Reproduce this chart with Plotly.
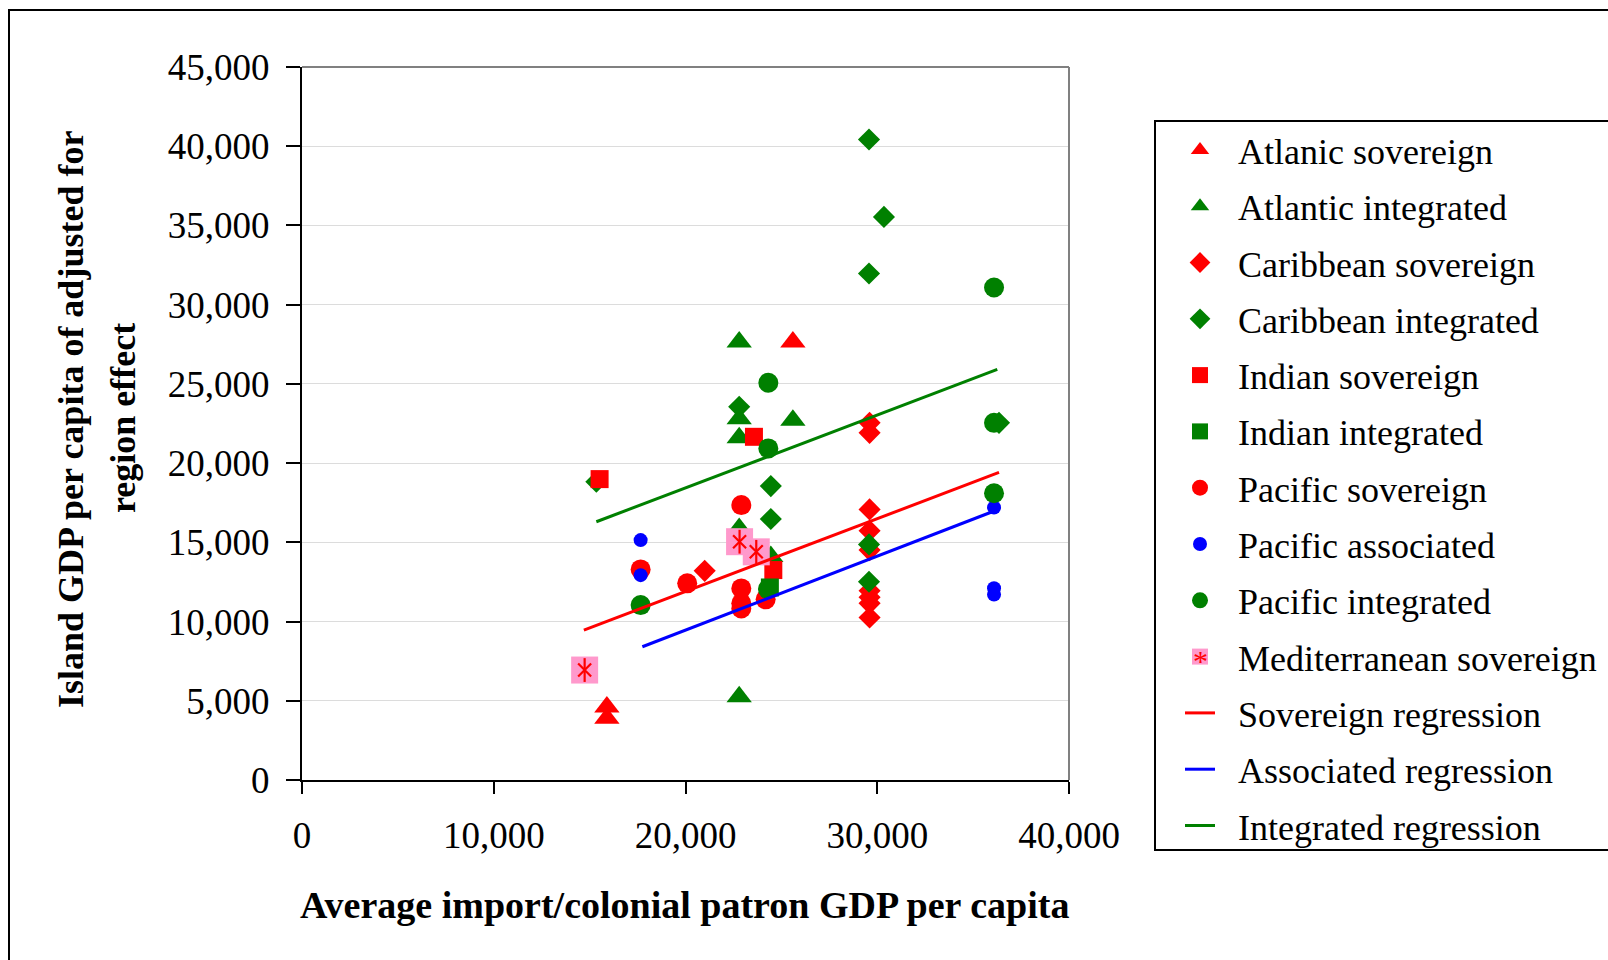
import plotly.graph_objects as go

# ---------------- data ----------------
atl_sov_x = [25600, 15900, 15900]
atl_sov_y = [27650, 4600, 3900]

atl_int_x = [22800, 22800, 22800, 25600, 22800, 24450, 22800]
atl_int_y = [27650, 22800, 21600, 22700, 15880, 14100, 5260]

car_sov_x = [29600, 29600, 29600, 29600, 29600, 29600, 29600, 29600, 29600, 21000]
car_sov_y = [22540, 21910, 17080, 15730, 14510, 11940, 11530, 11150, 10260, 13200]

car_int_x = [15350, 24450, 24450, 22800, 29570, 30350, 29570, 29570, 29570, 36350]
car_int_y = [18820, 18550, 16470, 23550, 40420, 35540, 31970, 14870, 12510, 22540]

ind_sov_x = [15520, 23570, 24580]
ind_sov_y = [18990, 21660, 13250]

ind_int_x = [24400]
ind_int_y = [12150]

pac_sov_x = [17660, 20090, 22910, 22910, 22910, 22910, 24180]
pac_sov_y = [13290, 12410, 17350, 12090, 11150, 10830, 11400]

pac_assoc_x = [17660, 17660, 36090, 36090, 36090]
pac_assoc_y = [15140, 12930, 17200, 12100, 11700]

pac_int_x = [24320, 24320, 17660, 24300, 36090, 36090, 36090]
pac_int_y = [25070, 20930, 11040, 12050, 31080, 22540, 18100]

med_sov_x = [14740, 22820, 23690]
med_sov_y = [6940, 15040, 14400]

reg_sov_x = [14700, 36350]
reg_sov_y = [9460, 19410]
reg_assoc_x = [17750, 36000]
reg_assoc_y = [8410, 16930]
reg_int_x = [15350, 36260]
reg_int_y = [16300, 25910]

x_ticks = [0, 10000, 20000, 30000, 40000]
y_ticks = [0, 5000, 10000, 15000, 20000, 25000, 30000, 35000, 40000, 45000]

RED = "#FF0000"
GREEN = "#008000"
BLUE = "#0000FF"
PINK = "#FF99CC"
FONT = "Liberation Serif, Times New Roman, serif"
PAD = "\u00a0\u00a0"  # extra gap between legend symbol and label

fig = go.Figure()

def mk(name, x, y, symbol, color, size, group, showlegend=True, line=None):
    m = dict(symbol=symbol, color=color, size=size, line=dict(width=0))
    if line is not None:
        m["line"] = line
    fig.add_trace(go.Scatter(x=x, y=y, mode="markers", name=PAD + name, marker=m,
                             legendgroup=group, showlegend=showlegend))

mk("Atlanic sovereign", atl_sov_x, atl_sov_y, "triangle-up", RED, 22, "g1")
mk("Atlantic integrated", atl_int_x, atl_int_y, "triangle-up", GREEN, 22, "g2")
mk("Caribbean sovereign", car_sov_x, car_sov_y, "diamond", RED, 17, "g3")
mk("Caribbean integrated", car_int_x, car_int_y, "diamond", GREEN, 17, "g4")
mk("Indian sovereign", ind_sov_x, ind_sov_y, "square", RED, 18, "g5")
mk("Indian integrated", ind_int_x, ind_int_y, "square", GREEN, 18, "g6")
mk("Pacific sovereign", pac_sov_x, pac_sov_y, "circle", RED, 20, "g7")
mk("Pacific associated", pac_assoc_x, pac_assoc_y, "circle", BLUE, 14, "g8")
mk("Pacific integrated", pac_int_x, pac_int_y, "circle", GREEN, 20, "g9")
mk("Mediterranean sovereign", med_sov_x, med_sov_y, "square", PINK, 27, "g10")
mk("med_x", med_sov_x, med_sov_y, "x-thin-open", RED, 13, "g10", showlegend=False,
   line=dict(color=RED, width=2.2))
mk("med_ns", med_sov_x, med_sov_y, "line-ns-open", RED, 17, "g10", showlegend=False,
   line=dict(color=RED, width=2.2))

def ln(name, x, y, color, group):
    fig.add_trace(go.Scatter(x=x, y=y, mode="lines", name=PAD + name,
                             line=dict(color=color, width=3), legendgroup=group))

ln("Sovereign regression", reg_sov_x, reg_sov_y, RED, "g11")
ln("Associated regression", reg_assoc_x, reg_assoc_y, BLUE, "g12")
ln("Integrated regression", reg_int_x, reg_int_y, GREEN, "g13")

L, R, T, B = 302, 539, 67, 180
W, H = 1608, 960
pw, ph = W - L - R, H - T - B

def px_x(p):
    return (p - L) / pw

def px_y(p):
    return (H - B - p) / ph

fig.update_layout(
    width=W, height=H,
    margin=dict(l=L, r=R, t=T, b=B, pad=0, autoexpand=False),
    paper_bgcolor="white", plot_bgcolor="white",
    font=dict(family=FONT, size=36, color="black"),
    showlegend=True,
    legend=dict(
        x=px_x(1180), y=px_y(120), xanchor="left", yanchor="top",
        font=dict(family=FONT, size=36, color="black"),
        bgcolor="rgba(0,0,0,0)", borderwidth=0,
        traceorder="grouped", tracegroupgap=6.5,
        itemsizing="trace", maxheight=950,
    ),
    xaxis=dict(
        range=[0, 40000], tickvals=x_ticks, tickformat=",",
        showgrid=False, zeroline=False,
        showline=True, linecolor="black", linewidth=2,
        ticks="outside", ticklen=12, tickwidth=2, tickcolor="black",
        tickfont=dict(family=FONT, size=37, color="black"),
        ticklabelstandoff=10,
    ),
    yaxis=dict(
        range=[0, 45000], tickvals=y_ticks, tickformat=",",
        showgrid=True, gridcolor="#DCDCDC", gridwidth=1,
        zeroline=False,
        showline=True, linecolor="black", linewidth=2,
        ticks="outside", ticklen=14, tickwidth=2, tickcolor="black",
        tickfont=dict(family=FONT, size=37, color="black"),
        ticklabelstandoff=9,
    ),
    shapes=[
        # plot area top/right border (gray)
        dict(type="line", xref="paper", yref="paper", x0=0, x1=1, y0=1, y1=1,
             line=dict(color="#808080", width=2)),
        dict(type="line", xref="paper", yref="paper", x0=1, x1=1, y0=0, y1=1,
             line=dict(color="#808080", width=2)),
        # outer chart frame
        dict(type="rect", xref="paper", yref="paper",
             x0=px_x(9), x1=px_x(1700), y0=px_y(1100), y1=px_y(10),
             line=dict(color="black", width=2), fillcolor="rgba(0,0,0,0)"),
        # legend box
        dict(type="rect", xref="paper", yref="paper",
             x0=px_x(1155), x1=px_x(1700), y0=px_y(850), y1=px_y(121),
             line=dict(color="black", width=2), fillcolor="rgba(0,0,0,0)"),
    ],
    annotations=[
        dict(text="<b>Island GDP per capita of adjusted for</b>",
             xref="paper", yref="paper", x=px_x(71), y=px_y(420),
             xanchor="center", yanchor="middle", textangle=-90, showarrow=False,
             font=dict(family=FONT, size=36, color="black")),
        dict(text="<b>region effect</b>",
             xref="paper", yref="paper", x=px_x(123), y=px_y(418),
             xanchor="center", yanchor="middle", textangle=-90, showarrow=False,
             font=dict(family=FONT, size=36, color="black")),
        dict(text="<b>Average import/colonial patron GDP per capita</b>",
             xref="paper", yref="paper", x=px_x(684), y=px_y(905),
             xanchor="center", yanchor="middle", showarrow=False,
             font=dict(family=FONT, size=38, color="black")),
        dict(text="*", xref="paper", yref="paper", x=px_x(1200), y=px_y(654),
             xanchor="center", yanchor="middle", showarrow=False, yshift=-6,
             font=dict(family=FONT, size=30, color=RED)),
    ],
)

fig.write_html("out.html")
